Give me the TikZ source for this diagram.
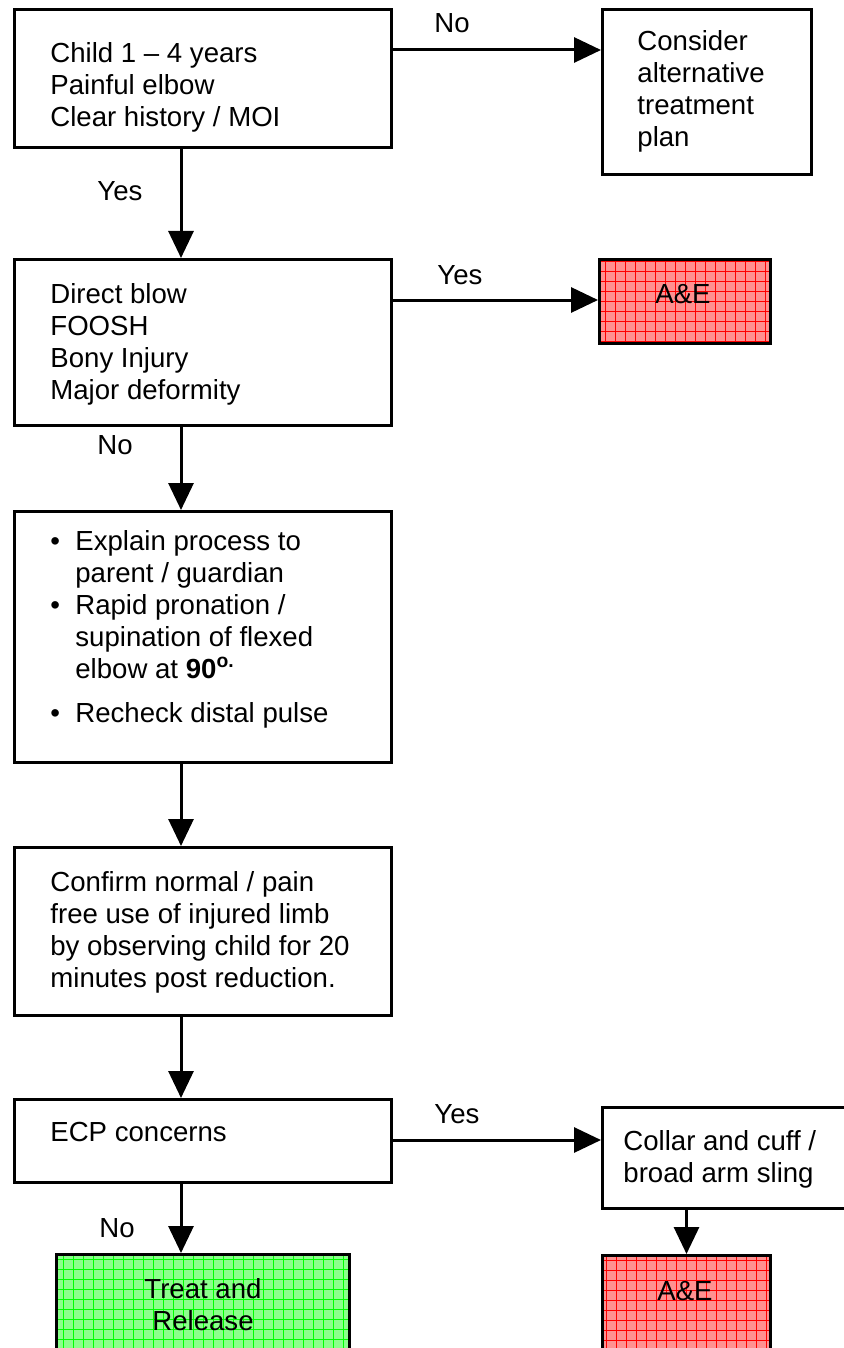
\documentclass[tikz,border=0pt]{standalone}
\usepackage{fontspec}
\setmainfont{Liberation Sans}
\usetikzlibrary{arrows.meta}

\definecolor{aefill}{RGB}{255,145,145}
\definecolor{okfill}{RGB}{140,255,140}

\tikzset{
    box/.style={draw, line width=1.5pt, anchor=north west, inner sep=0pt},
    redbox/.style={box, fill=aefill, path picture={\draw[red, line width=0.4pt, step=5pt] (path picture bounding box.south west) grid (path picture bounding box.north east);}},
    greenbox/.style={box, fill=okfill, path picture={\draw[green, line width=0.4pt, step=5pt] (path picture bounding box.south west) grid (path picture bounding box.north east);}},
    txt/.style={anchor=base west, align=left, inner sep=0pt, font=\fontsize{13.8}{16}\selectfont},
    ctxt/.style={txt, anchor=base, align=center},
    lbl/.style={anchor=base, inner sep=0pt, font=\fontsize{13.8}{16}\selectfont},
    arr/.style={line width=1.5pt, -{Triangle[length=13.5pt,width=12.5pt]}}
}

\begin{document}
\begin{tikzpicture}[x=0.5pt, y=-0.5pt]
        \useasboundingbox (0,0) rectangle (844,1348);
        \clip (0,0) rectangle (844,1348);

        \coordinate (spine) at (181,0);

        \node[box, minimum width=188.5pt, minimum height=69pt] (start) at (13,8) {};
        \node[txt] (start-t) at (50,127) {Child 1 -- 4 years\\Painful elbow\\Clear history / MOI};

        \node[box, minimum width=104.5pt, minimum height=82.5pt] (alt) at (601,8) {};
        \node[txt] (alt-t) at (637,147) {Consider\\alternative\\treatment\\plan};

        \node[box, minimum width=188.5pt, minimum height=83pt] (mech) at (13,258) {};
        \node[txt] (mech-t) at (50,399) {Direct blow\\FOOSH\\Bony Injury\\Major deformity};

        \node[redbox, minimum width=85.5pt, minimum height=42pt] (ae1) at (598,258) {};
        \node[ctxt] (ae1-t) at (683,303) {A\&E};

        \node[box, minimum width=188.5pt, minimum height=125.5pt] (reduce) at (13,510) {};
        \node[txt] (reduce-t) at (50,722) {\makebox[12.5pt][l]{\textbullet}Explain process to\\
            \hspace*{12.5pt}parent / guardian\\
            \makebox[12.5pt][l]{\textbullet}Rapid pronation /\\
            \hspace*{12.5pt}supination of flexed\\
            \hspace*{12.5pt}elbow at \textbf{90}\textsuperscript{\textbf{o.}}\\[6pt]
            \makebox[12.5pt][l]{\textbullet}Recheck distal pulse};

        \node[box, minimum width=188.5pt, minimum height=84pt] (observe) at (13,846) {};
        \node[txt] (observe-t) at (50,987) {Confirm normal / pain\\free use of injured limb\\by observing child for 20\\minutes post reduction.};

        \node[box, minimum width=188.5pt, minimum height=41.5pt] (ecp) at (13,1098) {};
        \node[txt] (ecp-t) at (50,1141) {ECP concerns};

        \node[box, minimum width=130pt, minimum height=50.5pt] (collar) at (601,1106) {};
        \node[txt] (collar-t) at (623,1182) {Collar and cuff /\\broad arm sling};

        \node[redbox, minimum width=84pt, minimum height=55pt] (ae2) at (601,1254) {};
        \node[ctxt] (ae2-t) at (685,1300) {A\&E};

        \node[greenbox, minimum width=146.5pt, minimum height=55pt] (treat) at (55,1253) {};
        \node[ctxt] (treat-t) at (203,1330) {Treat and\\Release};

        \draw[arr] ([yshift=-21pt]start.north east) -- ([yshift=-21pt]alt.north west);
        \draw[arr] (start.south -| spine) -- (mech.north -| spine);
        \draw[arr] ([yshift=-21pt]mech.north east) -- ([yshift=-21pt]ae1.north west);
        \draw[arr] (mech.south -| spine) -- (reduce.north -| spine);
        \draw[arr] (reduce.south -| spine) -- (observe.north -| spine);
        \draw[arr] (observe.south -| spine) -- (ecp.north -| spine);
        \draw[arr] ([yshift=-21pt]ecp.north east) -- ([yshift=-17pt]collar.north west);
        \draw[arr] (ecp.south -| spine) -- (treat.north -| spine);
        \draw[arr] (collar.south -| ae2.north) -- (ae2.north);

        \node[lbl] (no1) at (452,33) {No};
        \node[lbl] (yes1) at (120,201) {Yes};
        \node[lbl] (yes2) at (460,285) {Yes};
        \node[lbl] (no2) at (115,454) {No};
        \node[lbl] (yes3) at (457,1123) {Yes};
        \node[lbl] (no3) at (117,1237) {No};
    \end{tikzpicture}
\end{document}
